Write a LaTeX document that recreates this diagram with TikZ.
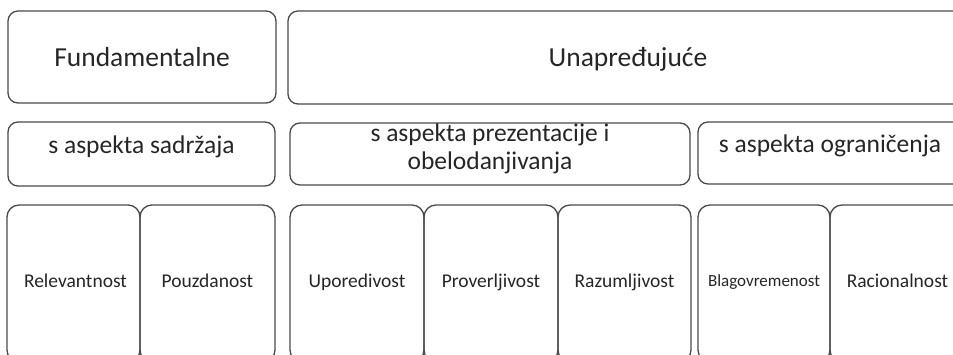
\documentclass[tikz,border=0pt]{standalone}
\usepackage{fontspec}
\setmainfont{Carlito}
\definecolor{boxgray}{HTML}{4A4A4A}
\definecolor{txt}{HTML}{262626}
\begin{document}
\begin{tikzpicture}[x=1pt,y=-1pt,
  box/.style={draw=boxgray, line width=1.3pt, rounded corners=10pt, anchor=north west, inner sep=0pt, outer sep=0pt},
  lbl/.style={anchor=base, inner sep=0pt, text=txt},
  big/.style={lbl, font=\fontsize{27.5}{30}\selectfont},
  mid/.style={lbl, font=\fontsize{25.5}{28}\selectfont},
  small/.style={lbl, font=\fontsize{19.5}{22}\selectfont},
]
\useasboundingbox (0,0) rectangle (953,355);
\clip (0,0) rectangle (953,355);
% top row
\node[box, minimum width=268pt, minimum height=92pt] (fund) at (8,11) {};
\node[box, minimum width=680pt, minimum height=93pt] (unap) at (288,11) {};
\node[big] (fundt) at (142,67) {Fundamentalne};
\node[big] (unapt) at (628,67) {Unapređujuće};
% middle row
\node[box, minimum width=267pt, minimum height=64pt] (sadr) at (8,122) {};
\node[box, minimum width=400pt, minimum height=62pt] (prez) at (290,123) {};
\node[box, minimum width=270pt, minimum height=62pt] (ogra) at (698,122) {};
\node[mid] (sadrt) at (141.5,154) {s aspekta sadržaja};
\node[mid, align=center] (prezt) at (490,170) {s aspekta prezentacije i\\obelodanjivanja};
\node[mid] (ograt) at (830,153) {s aspekta ograničenja};
% bottom row
\node[box, rounded corners=12pt, minimum width=133pt, minimum height=157pt] (rel) at (7,205) {};
\node[box, rounded corners=12pt, minimum width=135pt, minimum height=157pt] (pou) at (140,205) {};
\node[box, rounded corners=12pt, minimum width=134pt, minimum height=157pt] (upo) at (290,205) {};
\node[box, rounded corners=12pt, minimum width=134pt, minimum height=157pt] (pro) at (424,205) {};
\node[box, rounded corners=12pt, minimum width=133pt, minimum height=157pt] (raz) at (558,205) {};
\node[box, rounded corners=12pt, minimum width=132pt, minimum height=157pt] (bla) at (698,205) {};
\node[box, rounded corners=12pt, minimum width=135pt, minimum height=157pt] (rac) at (830,205) {};
\node[small] (relt) at (75.5,288) {Relevantnost};
\node[small] (pout) at (207.5,288) {Pouzdanost};
\node[small] (upot) at (357,288) {Uporedivost};
\node[small] (prot) at (491,288) {Proverljivost};
\node[small] (razt) at (624.5,288) {Razumljivost};
\node[lbl, font=\fontsize{17}{20}\selectfont] (blat) at (764,287) {Blagovremenost};
\node[small] (ract) at (897.5,288) {Racionalnost};
\end{tikzpicture}
\end{document}
